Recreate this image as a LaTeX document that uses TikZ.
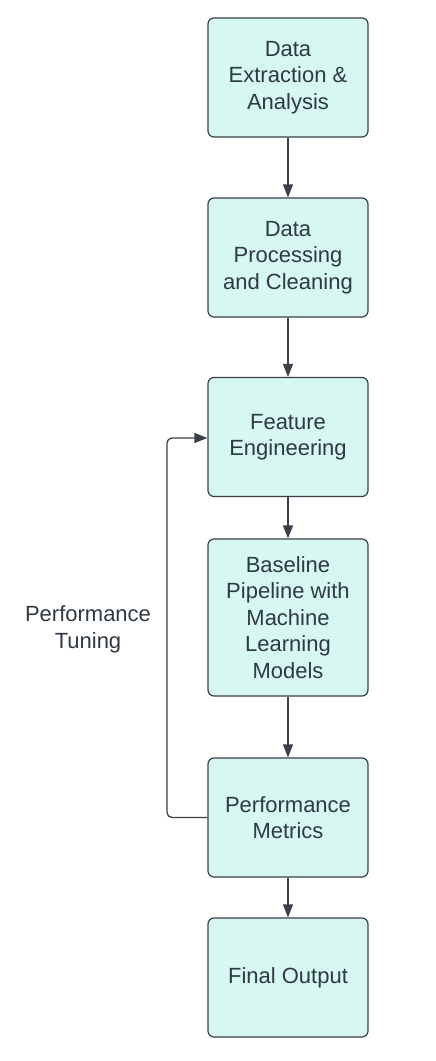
\documentclass[tikz,border=0pt]{standalone}
\usepackage{fontspec}
\setmainfont{Liberation Sans}
\usetikzlibrary{arrows.meta}
\definecolor{boxfill}{HTML}{D6F7F2}
\definecolor{boxline}{HTML}{3A4049}
\definecolor{txt}{HTML}{2E3942}
\tikzset{
  stepbox/.style={draw=boxline, fill=boxfill, line width=1.2pt, rounded corners=6pt,
    minimum width=160pt, minimum height=119pt, inner sep=0pt, align=center,
    text=txt, font=\fontsize{22pt}{26.5pt}\selectfont},
  conn/.style={draw=boxline, line width=1.3pt, -{Triangle[width=10pt,length=13pt]}},
}
\begin{document}
\begin{tikzpicture}[x=1pt,y=-1pt]
\useasboundingbox (0,0) rectangle (436,1061);
\node[stepbox] (b1) at (288,77.5) {Data\\Extraction \&\\Analysis};
\node[stepbox] (b2) at (288,257.5) {Data\\Processing\\and Cleaning};
\node[stepbox] (b3) at (288,437) {Feature\\Engineering};
\node[stepbox, minimum height=157pt] (b4) at (288,617.5) {Baseline\\Pipeline with\\Machine\\Learning\\Models};
\node[stepbox] (b5) at (288,817.5) {Performance\\Metrics};
\node[stepbox] (b6) at (288,977.5) {Final Output};
\draw[conn] (b1) -- (b2);
\draw[conn] (b2) -- (b3);
\draw[conn] (b3) -- (b4);
\draw[conn] (b4) -- (b5);
\draw[conn] (b5) -- (b6);
\coordinate (c1) at (167,817.5);
\coordinate (c2) at (167,438);
\draw[conn, rounded corners=5pt] (b5.west) -- (c1) -- (c2) -- (b3.west |- c2);
\node[align=center, text=txt, font=\fontsize{22pt}{26.5pt}\selectfont] (lbl) at (88,629.5) {Performance\\Tuning};
\end{tikzpicture}
\end{document}
